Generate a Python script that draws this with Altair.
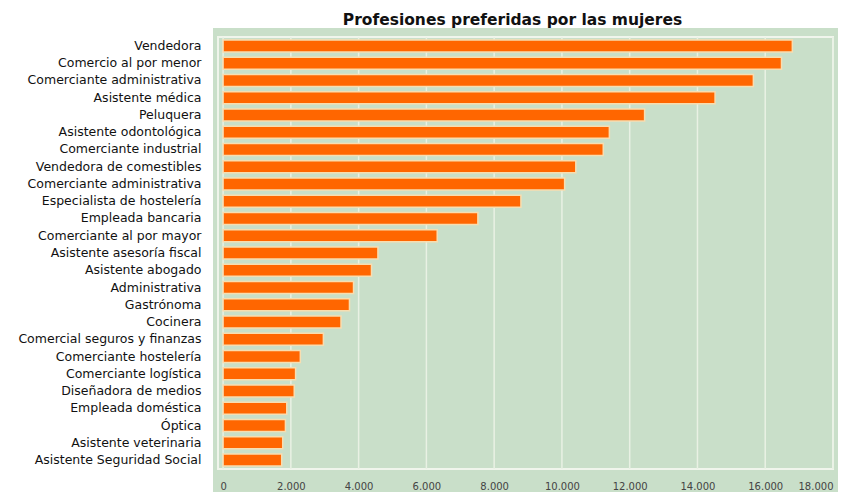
import altair as alt
import pandas as pd
import json

professions = [
    "Vendedora",
    "Comercio al por menor",
    "Comerciante administrativa",
    "Asistente médica",
    "Peluquera",
    "Asistente odontológica",
    "Comerciante industrial",
    "Vendedora de comestibles",
    "Comerciante administrativa",
    "Especialista de hostelería",
    "Empleada bancaria",
    "Comerciante al por mayor",
    "Asistente asesoría fiscal",
    "Asistente abogado",
    "Administrativa",
    "Gastrónoma",
    "Cocinera",
    "Comercial seguros y finanzas",
    "Comerciante hostelería",
    "Comerciante logística",
    "Diseñadora de medios",
    "Empleada doméstica",
    "Óptica",
    "Asistente veterinaria",
    "Asistente Seguridad Social",
]
values = [
    16800, 16480, 15650, 14520, 12440, 11400, 11220, 10410, 10080, 8790,
    7520, 6320, 4570, 4380, 3850, 3730, 3480, 2960, 2280, 2140,
    2100, 1880, 1840, 1760, 1730,
]
ticks = [0, 2000, 4000, 6000, 8000, 10000, 12000, 14000, 16000, 18000]

W, H = 615, 432
GREEN = "#C9DFC9"
FONT = "DejaVu Sans"

bars_df = pd.DataFrame({"rank": list(range(len(professions))), "name": professions, "value": values})
ticks_df = pd.DataFrame({"tick": ticks})

xscale = alt.Scale(domain=[-150, 18000], nice=False, zero=False)
xaxis = alt.Axis(
    values=ticks, grid=False, domain=False, ticks=False, tickSize=0,
    labelPadding=12, labelFontSize=10, labelColor="#444444",
    labelFont=FONT, title=None, zindex=1,
    labelExpr="replace(format(datum.value, ','), ',', '.')",
)

label_expr = json.dumps(professions, ensure_ascii=False) + "[datum.value]"

bg = alt.Chart(alt.Data(values=[{}])).mark_rect(color=GREEN).encode(
    x=alt.value(-5), x2=alt.value(W + 5), y=alt.value(-9), y2=alt.value(H + 23)
)
border = alt.Chart(alt.Data(values=[{}])).mark_rect(
    fill="transparent", stroke="#F0F5EC", strokeWidth=2
).encode(x=alt.value(0), x2=alt.value(W), y=alt.value(0), y2=alt.value(H))

grid = alt.Chart(ticks_df).mark_rule(color="#E9F1E4", strokeWidth=1.5).encode(
    x=alt.X("tick:Q", scale=xscale, axis=xaxis),
    y=alt.value(0), y2=alt.value(H),
)

bars = alt.Chart(bars_df).mark_bar(
    color="#FF6600", stroke="#F8DDB0", strokeWidth=1.5
).encode(
    x=alt.X("value:Q", scale=xscale, axis=xaxis),
    y=alt.Y(
        "rank:O",
        scale=alt.Scale(paddingInner=0.3, paddingOuter=0.17),
        axis=alt.Axis(
            title=None, domain=False, ticks=False, tickSize=0, labelPadding=17,
            labelFontSize=12.5, labelColor="#111111", labelFont=FONT,
            labelExpr=label_expr, zindex=1, labelLimit=400,
        ),
    ),
)

chart = alt.layer(bg, border, grid, bars).properties(
    width=W, height=H,
    title=alt.TitleParams(
        "Profesiones preferidas por las mujeres", fontSize=15.5, fontWeight="bold",
        font=FONT, color="#111111", anchor="middle", dx=-13, offset=0,
    ),
    autosize=alt.AutoSizeParams(type="none"),
    padding={"left": 210, "top": 29, "right": 5, "bottom": 23},
).configure_view(stroke=None).configure(background="white")

chart.save("out.html", embed_options={"renderer": "svg", "actions": False})
